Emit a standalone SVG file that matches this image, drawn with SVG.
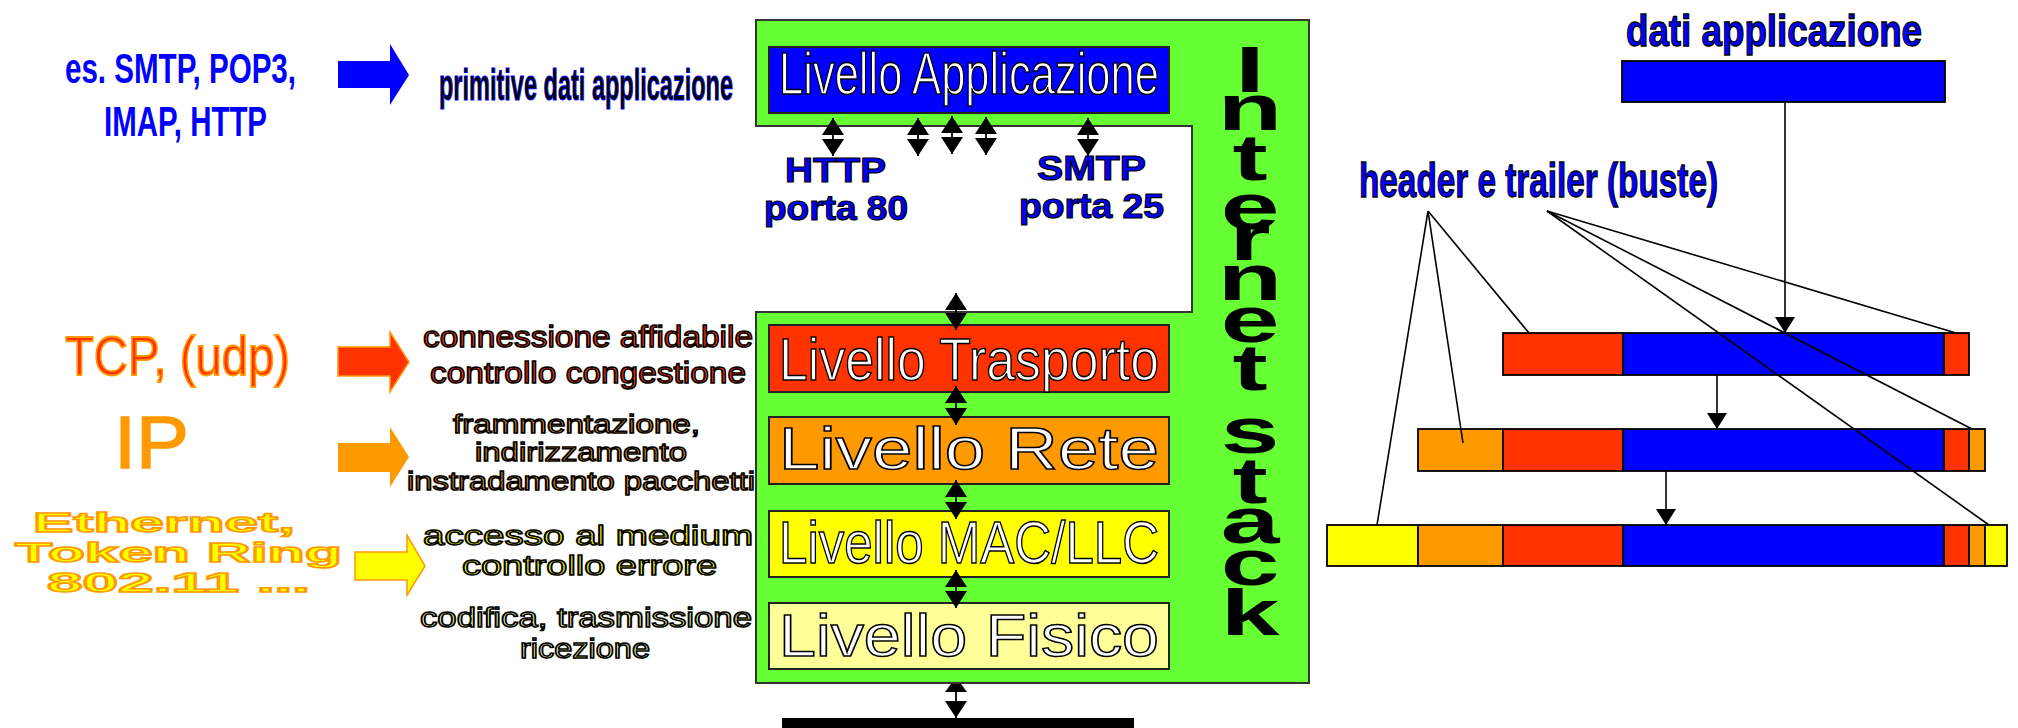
<svg xmlns="http://www.w3.org/2000/svg" width="2018" height="728" viewBox="0 0 2018 728">
<style>
text{font-family:"Liberation Sans",Arial,sans-serif}
.proto{font-weight:bold;fill:#0000FF;font-size:43px}
.prim{fill:#000;stroke:#0000FF;stroke-width:1;font-size:44px;font-weight:bold}
.lvl{fill:#fff;stroke:#000;stroke-width:1.5;font-size:60px}
.port{font-weight:bold;fill:#0000FF;stroke:#000;stroke-width:1.2;font-size:35px}
.desc{stroke:#000;stroke-width:1.5}
.stack{font-weight:bold;font-size:64px;fill:#000;text-anchor:middle}
.bt{fill:#0000FF;stroke:#000;stroke-width:1.3;font-weight:bold}
.eth{fill:#FFFF00;stroke:#FF9900;stroke-width:1.5;font-size:28px;font-weight:bold}
.seg{stroke:#000;stroke-width:1.8}
.conn{stroke:#000;stroke-width:1.8;fill:none}
.thin{stroke:#000;stroke-width:1.6;fill:none}
</style>
<defs>
<marker id="ah" viewBox="0 0 17 22" refX="17" refY="11" markerWidth="17" markerHeight="22" markerUnits="userSpaceOnUse" orient="auto-start-reverse">
<path d="M0,0 L17,11 L0,22 Z" fill="#000"/>
</marker>
<marker id="ah2" viewBox="0 0 16 20" refX="16" refY="10" markerWidth="16" markerHeight="20" markerUnits="userSpaceOnUse" orient="auto">
<path d="M0,0 L16,10 L0,20 Z" fill="#000"/>
</marker>
</defs>
<rect width="2018" height="728" fill="#fff"/>

<g id="proto-app">
<text class="proto" x="65" y="83" textLength="231" lengthAdjust="spacingAndGlyphs">es. SMTP, POP3,</text>
<text class="proto" x="104" y="136" textLength="163" lengthAdjust="spacingAndGlyphs">IMAP, HTTP</text>
<polygon points="338,61 390,61 390,44 409,75 390,105 390,88 338,88" fill="#0000FF"/>
<text class="prim" x="439" y="100" textLength="294" lengthAdjust="spacingAndGlyphs">primitive dati applicazione</text>
</g>

<g id="proto-tcp">
<text x="65" y="375" font-size="56" fill="#FF3300" stroke="#FF9900" stroke-width="1.8" textLength="225" lengthAdjust="spacingAndGlyphs">TCP, (udp)</text>
<polygon points="338,347 390,347 390,332 409,362 390,392 390,376 338,376" fill="#FF3300" stroke="#FF9900" stroke-width="1.5"/>
<text class="desc" x="423" y="347" font-size="30" fill="#FF3300" textLength="330" lengthAdjust="spacingAndGlyphs">connessione affidabile</text>
<text class="desc" x="430" y="383" font-size="30" fill="#FF3300" textLength="316" lengthAdjust="spacingAndGlyphs">controllo congestione</text>
</g>

<g id="proto-ip">
<text x="114" y="468" font-size="74" fill="#FF9900" stroke="#FF9900" stroke-width="1.5" textLength="75" lengthAdjust="spacingAndGlyphs">IP</text>
<polygon points="338,443 390,443 390,427 409,457 390,487 390,472 338,472" fill="#FF9900"/>
<text class="desc" x="453" y="433" font-size="26" fill="#FF9900" textLength="247" lengthAdjust="spacingAndGlyphs">frammentazione,</text>
<text class="desc" x="475" y="461" font-size="26" fill="#FF9900" textLength="212" lengthAdjust="spacingAndGlyphs">indirizzamento</text>
<text class="desc" x="407" y="490" font-size="26" fill="#FF9900" textLength="348" lengthAdjust="spacingAndGlyphs">instradamento pacchetti</text>
</g>

<g id="proto-mac">
<text class="eth" x="33" y="532" textLength="262" lengthAdjust="spacingAndGlyphs">Ethernet,</text>
<text class="eth" x="15" y="562" textLength="327" lengthAdjust="spacingAndGlyphs">Token Ring</text>
<text class="eth" x="47" y="592" textLength="263" lengthAdjust="spacingAndGlyphs">802.11 ...</text>
<polygon points="355,552 407,552 407,535 425,566 407,595 407,580 355,580" fill="#FFFF00" stroke="#FF9900" stroke-width="1.5"/>
<text class="desc" x="423" y="545" font-size="28" fill="#FFFF00" textLength="330" lengthAdjust="spacingAndGlyphs">accesso al medium</text>
<text class="desc" x="462" y="575" font-size="28" fill="#FFFF00" textLength="255" lengthAdjust="spacingAndGlyphs">controllo errore</text>
</g>

<g id="proto-phy">
<text class="desc" x="420" y="627" font-size="27" fill="#FFFF99" textLength="332" lengthAdjust="spacingAndGlyphs">codifica, trasmissione</text>
<text class="desc" x="520" y="658" font-size="27" fill="#FFFF99" textLength="130" lengthAdjust="spacingAndGlyphs">ricezione</text>
</g>

<g id="internet-stack-box">
<path d="M756,20 H1309 V683 H756 V312 H1192 V126 H756 Z" fill="#66FF33" stroke="#333" stroke-width="2"/>
<g transform="translate(1250 0) scale(1.65 1)">
<text class="stack"><tspan x="0" y="92">I</tspan><tspan x="0" y="130">n</tspan><tspan x="0" y="180">t</tspan><tspan x="0" y="229">e</tspan><tspan x="0" y="260">r</tspan><tspan x="0" y="300">n</tspan><tspan x="0" y="342">e</tspan><tspan x="0" y="390">t</tspan><tspan x="0" y="453">s</tspan><tspan x="0" y="503">t</tspan><tspan x="0" y="543">a</tspan><tspan x="0" y="585">c</tspan><tspan x="0" y="635">k</tspan></text>
</g>
</g>

<g id="layer-app">
<rect x="769" y="47" width="400" height="66" fill="#0000FF" stroke="#222" stroke-width="2"/>
<text class="lvl" x="779" y="94" textLength="380" lengthAdjust="spacingAndGlyphs">Livello Applicazione</text>
</g>
<g id="port-http">
<text class="port" x="785" y="182" textLength="101" lengthAdjust="spacingAndGlyphs">HTTP</text>
<text class="port" x="764" y="220" textLength="144" lengthAdjust="spacingAndGlyphs">porta 80</text>
</g>
<g id="port-smtp">
<text class="port" x="1037" y="180" textLength="109" lengthAdjust="spacingAndGlyphs">SMTP</text>
<text class="port" x="1019" y="218" textLength="145" lengthAdjust="spacingAndGlyphs">porta 25</text>
</g>
<g id="layer-transport">
<rect x="769" y="325" width="400" height="67" fill="#FF3300" stroke="#222" stroke-width="2"/>
<text class="lvl" x="779" y="380" textLength="380" lengthAdjust="spacingAndGlyphs">Livello Trasporto</text>
</g>
<g id="layer-network">
<rect x="769" y="417" width="400" height="67" fill="#FF9900" stroke="#222" stroke-width="2"/>
<text class="lvl" x="779" y="469" font-size="57" textLength="380" lengthAdjust="spacingAndGlyphs">Livello Rete</text>
</g>
<g id="layer-mac">
<rect x="769" y="511" width="400" height="66" fill="#FFFF00" stroke="#222" stroke-width="2"/>
<text class="lvl" x="779" y="563" font-size="57" textLength="380" lengthAdjust="spacingAndGlyphs">Livello MAC/LLC</text>
</g>
<g id="layer-phy">
<rect x="769" y="603" width="400" height="66" fill="#FFFF99" stroke="#222" stroke-width="2"/>
<text class="lvl" x="779" y="656" font-size="57" textLength="380" lengthAdjust="spacingAndGlyphs">Livello Fisico</text>
</g>
<g id="medium">
<rect x="782" y="718" width="352" height="10" fill="#000"/>
</g>

<g id="data-app">
<text class="bt" x="1626" y="46" font-size="44" textLength="296" lengthAdjust="spacingAndGlyphs">dati applicazione</text>
<rect x="1622" y="61" width="323" height="41" fill="#0000FF" class="seg"/>
</g>
<g id="label-envelopes">
<text class="bt" x="1359" y="197" font-size="48" textLength="359" lengthAdjust="spacingAndGlyphs">header e trailer (buste)</text>
</g>
<g id="frame-transport">
<rect x="1503" y="333" width="120" height="42" fill="#FF3300" class="seg"/>
<rect x="1623" y="333" width="321" height="42" fill="#0000FF" class="seg"/>
<rect x="1944" y="333" width="25" height="42" fill="#FF3300" class="seg"/>
</g>
<g id="frame-network">
<rect x="1418" y="429" width="85" height="42" fill="#FF9900" class="seg"/>
<rect x="1503" y="429" width="120" height="42" fill="#FF3300" class="seg"/>
<rect x="1623" y="429" width="321" height="42" fill="#0000FF" class="seg"/>
<rect x="1944" y="429" width="25" height="42" fill="#FF3300" class="seg"/>
<rect x="1969" y="429" width="16" height="42" fill="#FF9900" class="seg"/>
</g>
<g id="frame-mac">
<rect x="1327" y="525" width="91" height="41" fill="#FFFF00" class="seg"/>
<rect x="1418" y="525" width="85" height="41" fill="#FF9900" class="seg"/>
<rect x="1503" y="525" width="120" height="41" fill="#FF3300" class="seg"/>
<rect x="1623" y="525" width="321" height="41" fill="#0000FF" class="seg"/>
<rect x="1944" y="525" width="25" height="41" fill="#FF3300" class="seg"/>
<rect x="1969" y="525" width="16" height="41" fill="#FF9900" class="seg"/>
<rect x="1985" y="525" width="22" height="41" fill="#FFFF00" class="seg"/>
</g>

<g id="connectors">
<line class="conn" x1="833" y1="118" x2="833" y2="156" marker-start="url(#ah)" marker-end="url(#ah)"/>
<line class="conn" x1="918" y1="118" x2="918" y2="156" marker-start="url(#ah)" marker-end="url(#ah)"/>
<line class="conn" x1="952" y1="116" x2="952" y2="154" marker-start="url(#ah)" marker-end="url(#ah)"/>
<line class="conn" x1="986" y1="117" x2="986" y2="155" marker-start="url(#ah)" marker-end="url(#ah)"/>
<line class="conn" x1="1088" y1="118" x2="1088" y2="156" marker-start="url(#ah)" marker-end="url(#ah)"/>
<line class="conn" x1="956" y1="293" x2="956" y2="330" marker-start="url(#ah)" marker-end="url(#ah)"/>
<line class="conn" x1="956" y1="386" x2="956" y2="425" marker-start="url(#ah)" marker-end="url(#ah)"/>
<line class="conn" x1="956" y1="480" x2="956" y2="519" marker-start="url(#ah)" marker-end="url(#ah)"/>
<line class="conn" x1="956" y1="570" x2="956" y2="608" marker-start="url(#ah)" marker-end="url(#ah)"/>
<line class="conn" x1="956" y1="684" x2="956" y2="718" marker-end="url(#ah)"/>
<polygon points="951,684 961,684 967,692 945,692" fill="#000"/>
<line class="thin" x1="1785" y1="102" x2="1785" y2="333" marker-end="url(#ah2)"/>
<line class="thin" x1="1717" y1="375" x2="1717" y2="429" marker-end="url(#ah2)"/>
<line class="thin" x1="1666" y1="471" x2="1666" y2="525" marker-end="url(#ah2)"/>
<line class="thin" x1="1428" y1="211" x2="1377" y2="525"/>
<line class="thin" x1="1428" y1="211" x2="1463" y2="443"/>
<line class="thin" x1="1428" y1="211" x2="1529" y2="333"/>
<line class="thin" x1="1547" y1="211" x2="1956" y2="333"/>
<line class="thin" x1="1547" y1="211" x2="1972" y2="429"/>
<line class="thin" x1="1547" y1="211" x2="1989" y2="525"/>
</g>
</svg>
